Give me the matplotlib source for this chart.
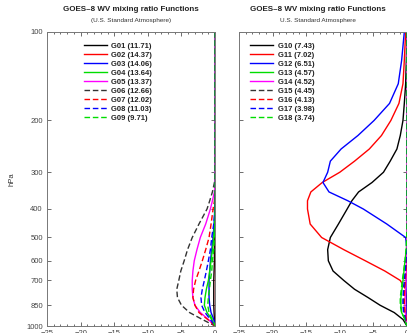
#!/usr/bin/env python3

import matplotlib
matplotlib.use('Agg')
import matplotlib.pyplot as plt
from matplotlib.ticker import FixedLocator, NullLocator, MultipleLocator

plt.rcParams['font.family'] = ['Liberation Sans', 'DejaVu Sans']

# pressure levels (hPa) shared by every curve
pres = [100, 125, 150, 175, 200, 225, 250, 275, 300, 325, 350, 375, 400,
        450, 500, 550, 600, 650, 700, 750, 800, 850, 900, 950, 1000]

# left panel: G01..G09
g01 = [0, 0, 0, 0, 0, 0, 0, 0, 0, 0, 0, 0, 0,
       0, -0.05, -0.1, -0.1, -0.15, -0.2, -0.2, -0.2, -0.2, -0.15, -0.1, 0]
g02 = [0] * 25
g03 = [0, 0, 0, 0, 0, 0, 0, 0, 0, 0, 0, 0, -0.05,
       -0.15, -0.3, -0.5, -0.7, -0.8, -0.9, -0.9, -0.9, -0.8, -0.6, -0.2, 0]
g04 = [0, 0, 0, 0, 0, 0, 0, 0, 0, 0, 0, 0, 0,
       -0.1, -0.2, -0.4, -0.6, -0.8, -1.0, -1.3, -1.5, -1.6, -1.2, -0.5, 0]
g05 = [0, 0, 0, 0, 0, 0, 0, 0, 0, 0, -0.1, -0.4, -0.7,
       -1.4, -2.2, -2.7, -3.1, -3.3, -3.4, -3.4, -3.3, -3.0, -2.2, -1.0, 0]
g06 = [0, 0, 0, 0, 0, 0, 0, 0, 0, -0.1, -0.4, -0.8, -1.2,
       -2.4, -3.4, -4.1, -4.6, -5.1, -5.4, -5.7, -5.6, -5.0, -3.8, -1.9, 0]
g07 = [0, 0, 0, 0, 0, 0, 0, 0, 0, 0, 0, -0.1, -0.3,
       -0.6, -0.9, -1.4, -1.9, -2.4, -2.9, -3.2, -3.3, -3.0, -2.4, -1.1, 0]
g08 = [0, 0, 0, 0, 0, 0, 0, 0, 0, 0, 0, 0, 0,
       -0.2, -0.5, -0.7, -1.0, -1.3, -1.6, -1.9, -2.1, -2.0, -1.5, -0.7, 0]
g09 = [0, 0, 0, 0, 0, 0, 0, 0, 0, 0, 0, 0, 0,
       0, -0.1, -0.2, -0.4, -0.5, -0.7, -0.85, -1.0, -1.1, -0.9, -0.4, 0]

# right panel: G10..G18
g10 = [0, -0.1, -0.2, -0.4, -0.6, -1.0, -1.5, -2.5, -3.5, -5.2, -7.2, -8.2, -8.9,
       -10.2, -11.4, -11.8, -11.7, -11.0, -9.4, -7.8, -5.8, -4.0, -1.9, -0.6, 0]
g11 = [-0.2, -0.4, -0.6, -1.2, -2.4, -3.8, -5.6, -7.8, -10.0, -12.6, -14.3, -14.8, -14.8,
       -14.4, -12.7, -9.4, -6.2, -3.3, -1.0, -0.2, -0.1, 0, 0, 0, 0]
g12 = [-0.4, -0.8, -1.3, -2.6, -4.9, -7.3, -9.8, -11.4, -11.8, -12.5, -11.6, -8.8, -6.5,
       -3.0, -0.2, 0, 0, 0, 0, 0, 0, 0, 0, 0, 0]
g13 = [0, 0, 0, 0, 0, 0, 0, 0, 0, 0, 0, 0, 0,
       0, 0, -0.1, -0.3, -0.45, -0.6, -0.75, -0.9, -0.9, -0.8, -0.3, 0]
g14 = [0, 0, 0, 0, 0, 0, 0, 0, 0, 0, 0, 0, 0,
       0, 0, 0, -0.05, -0.1, -0.15, -0.2, -0.3, -0.3, -0.25, -0.1, 0]
g15 = [0, 0, 0, 0, 0, 0, 0, 0, 0, 0, 0, 0, 0,
       0, 0, 0, -0.1, -0.2, -0.3, -0.4, -0.5, -0.5, -0.4, -0.2, 0]
g16 = [0, 0, 0, 0, 0, 0, 0, 0, 0, 0, 0, 0, 0,
       0, 0, 0, -0.1, -0.15, -0.25, -0.35, -0.4, -0.4, -0.3, -0.1, 0]
g17 = [0, 0, 0, 0, 0, 0, 0, 0, 0, 0, 0, 0, 0,
       0, 0, -0.05, -0.15, -0.25, -0.4, -0.5, -0.6, -0.6, -0.5, -0.2, 0]
g18 = [0, 0, 0, 0, 0, 0, 0, 0, 0, 0, 0, 0, 0,
       0, -0.05, -0.15, -0.3, -0.5, -0.7, -0.85, -1.0, -1.0, -0.8, -0.3, 0]

left_series = [g01, g02, g03, g04, g05, g06, g07, g08, g09]
left_labels = ['G01 (11.71)', 'G02 (14.37)', 'G03 (14.06)', 'G04 (13.64)',
               'G05 (13.37)', 'G06 (12.66)', 'G07 (12.02)', 'G08 (11.03)',
               'G09 (9.71)']
right_series = [g10, g11, g12, g13, g14, g15, g16, g17, g18]
right_labels = ['G10 (7.43)', 'G11 (7.02)', 'G12 (6.51)', 'G13 (4.57)',
                'G14 (4.52)', 'G15 (4.45)', 'G16 (4.13)', 'G17 (3.98)',
                'G18 (3.74)']

colors = ['black', 'red', 'blue', '#00dd00', 'magenta',
          '#333333', 'red', 'blue', '#00dd00']
styles = ['-', '-', '-', '-', '-', '--', '--', '--', '--']

yticks = [100, 200, 300, 400, 500, 600, 700, 850, 1000]


def setup(ax):
    ax.set_yscale('log')
    ax.set_ylim(1000, 100)
    ax.set_xlim(-25, 0)
    ax.yaxis.set_major_locator(FixedLocator(yticks))
    ax.yaxis.set_minor_locator(NullLocator())
    ax.xaxis.set_major_locator(MultipleLocator(5))
    ax.xaxis.set_minor_locator(MultipleLocator(1))
    ax.tick_params(which='both', direction='in', top=True, right=True,
                   labelsize=5.5, colors='#555555', labelcolor='#444444',
                   width=0.6)
    ax.tick_params(which='major', length=3, pad=3)
    ax.tick_params(which='minor', length=1.5)
    for s in ax.spines.values():
        s.set_color('#777777')
        s.set_linewidth(0.7)


def draw(ax, series, labels):
    for vals, lab, c, ls in zip(series, labels, colors, styles):
        if ls == '--':
            ax.plot(vals, pres, color=c, linestyle=(0, (4, 2)), linewidth=1.0, label=lab)
        else:
            ax.plot(vals, pres, color=c, linestyle=ls, linewidth=1.0, label=lab)


fig = plt.figure(figsize=(4.07, 3.33), dpi=100)
ax1 = fig.add_axes([0.1155, 0.021, 0.413, 0.883])
ax2 = fig.add_axes([0.587, 0.021, 0.413, 0.883])

for ax in (ax1, ax2):
    setup(ax)

draw(ax1, left_series, left_labels)
draw(ax2, right_series, right_labels)

ax1.set_yticklabels([str(t) for t in yticks])
ax2.set_yticklabels([])
ax1.set_ylabel('hPa', fontsize=5.5, color='#333333', labelpad=8)

ax1.text(0.5, 1.078, 'GOES\u20138 WV mixing ratio Functions', transform=ax1.transAxes,
         ha='center', va='center', fontsize=5.8, fontweight='bold', color='#222222')
ax1.text(0.5, 1.04, '(U.S. Standard Atmosphere)', transform=ax1.transAxes,
         ha='center', va='center', fontsize=4.6, color='#333333')
ax2.text(0.47, 1.078, 'GOES\u20138 WV mixing ratio Functions', transform=ax2.transAxes,
         ha='center', va='center', fontsize=5.8, fontweight='bold', color='#222222')
ax2.text(0.47, 1.04, 'U.S. Standard Atmosphere', transform=ax2.transAxes,
         ha='center', va='center', fontsize=4.6, color='#333333')

leg_kw = dict(frameon=False, handlelength=3.0, handletextpad=0.6,
              labelspacing=0.22, borderaxespad=0, prop={'weight': 'bold', 'size': 5.5})
leg1 = ax1.legend(loc='upper left', bbox_to_anchor=(0.2, 0.975), **leg_kw)
leg2 = ax2.legend(loc='upper left', bbox_to_anchor=(0.05, 0.975), **leg_kw)
for leg in (leg1, leg2):
    for t in leg.get_texts():
        t.set_color('#222222')

fig.savefig('out.png', dpi=100)
